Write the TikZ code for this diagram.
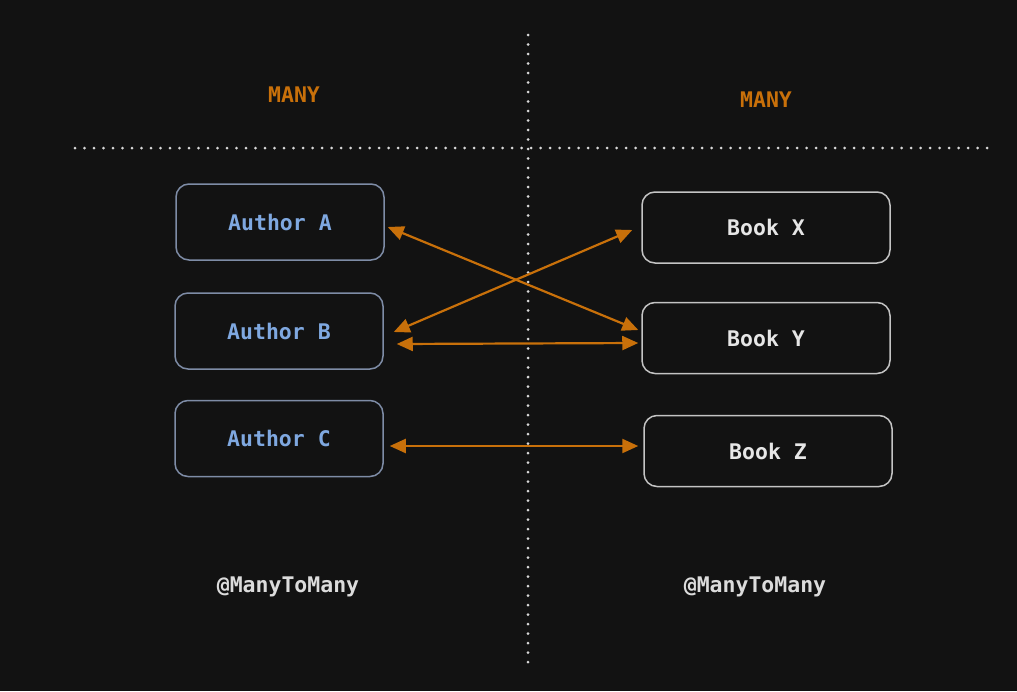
\documentclass[tikz,border=0pt]{standalone}
\usepackage{fontspec}
\setmonofont{DejaVu Sans Mono}
\usetikzlibrary{arrows.meta,calc}
\definecolor{bg}{HTML}{121212}
\definecolor{orng}{HTML}{C8700A}
\definecolor{authtxt}{HTML}{7FA8E0}
\definecolor{authbrd}{HTML}{7E8CA6}
\definecolor{bookbrd}{HTML}{C4C4C4}
\definecolor{booktxt}{HTML}{E6E6E6}
\definecolor{dotc}{HTML}{D8D8D8}
\begin{document}
\begin{tikzpicture}[x=1pt,y=-1pt,
  txt/.style={font=\fontsize{21.5}{25}\selectfont\ttfamily\bfseries},
  authbox/.style={draw=authbrd, line width=1.5pt, rounded corners=13pt, minimum width=208pt, minimum height=76pt, text=authtxt, txt, inner sep=0pt},
  bookbox/.style={draw=bookbrd, line width=1.5pt, rounded corners=13pt, minimum width=248pt, minimum height=71pt, text=booktxt, txt, inner sep=0pt},
  divider/.style={draw=dotc, line width=3pt, dash pattern=on 0pt off 9.5pt, line cap=round},
  link/.style={draw=orng, line width=2.2pt, {Triangle[length=16pt,width=14pt]}-{Triangle[length=16pt,width=14pt]}},
  many/.style={txt, text=orng},
  anno/.style={txt, text=booktxt!90!gray}]
\fill[bg] (0,0) rectangle (1017,691);
\useasboundingbox (0,0) rectangle (1017,691);
\coordinate (vtop) at (528,35);
\coordinate (vbot) at (528,665);
\coordinate (hl) at (75,148);
\coordinate (hr) at (990,148);
\draw[divider] (vtop) -- (vbot);
\draw[divider] (hl) -- (hr);
\node[many] (m1) at (294,95) {MANY};
\node[many] (m2) at (766,100) {MANY};
\node[authbox] (a) at (280,222) {Author A};
\node[authbox] (b) at (279,331) {Author B};
\node[authbox] (c) at (279,438.5) {Author C};
\node[bookbox] (x) at (766,227.5) {Book X};
\node[bookbox] (y) at (766,338) {Book Y};
\node[bookbox] (z) at (768,451) {Book Z};
\node[anno] (n1) at (288,587) {@ManyToMany};
\node[anno] (n2) at (755,587) {@ManyToMany};
\draw[link] ($(a.east)+(3,5)$) -- ($(y.west)+(-3,-8)$);
\draw[link] ($(b.east)+(10,1)$) -- ($(x.west)+(-9,2.5)$);
\draw[link] ($(b.east)+(13,13)$) -- ($(y.west)+(-3,5)$);
\draw[link] ($(c.east)+(6,7.5)$) -- ($(z.west)+(-5,-5)$);
\end{tikzpicture}
\end{document}
